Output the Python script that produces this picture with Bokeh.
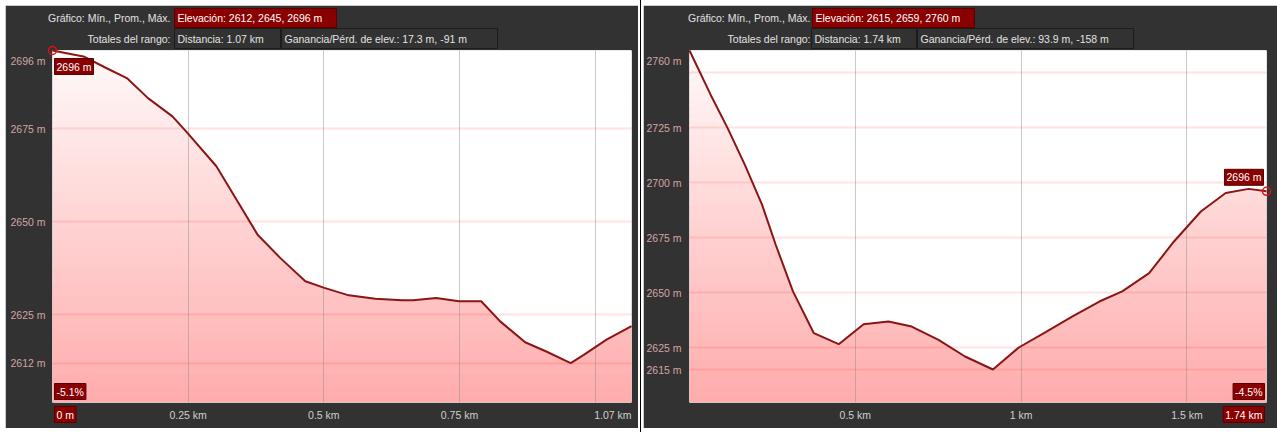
import numpy as np
from bokeh.plotting import figure
from bokeh.models import FixedTicker, PrintfTickFormatter, Div, Range1d
from bokeh.layouts import row
from bokeh.embed import file_html
from bokeh.resources import INLINE
from bokeh.core.properties import value

FONT = "Liberation Sans"
FS = "10.5px"

# ---------------- data ----------------
left_km = [0.000, 0.057, 0.099, 0.137, 0.176, 0.221, 0.249, 0.302, 0.337, 0.378, 0.420, 0.466, 0.501,
           0.546, 0.595, 0.644, 0.665, 0.707, 0.749, 0.790, 0.825, 0.871, 0.910, 0.955, 0.979, 1.021, 1.067]
left_elev = [2696.0, 2694.4, 2691.3, 2688.6, 2683.2, 2678.3, 2673.8, 2664.9, 2656.4, 2646.5, 2640.2, 2634.0,
             2632.2, 2630.2, 2629.3, 2628.9, 2628.9, 2629.5, 2628.6, 2628.6, 2623.2, 2617.6, 2615.1, 2612.0,
             2614.2, 2618.3, 2621.9]

right_km = [0.000, 0.064, 0.115, 0.167, 0.219, 0.260, 0.312, 0.375, 0.450, 0.525, 0.600, 0.670, 0.751,
            0.831, 0.915, 0.993, 1.074, 1.155, 1.236, 1.305, 1.386, 1.461, 1.542, 1.617, 1.686, 1.740]
right_elev = [2760.0, 2739.8, 2724.7, 2708.0, 2689.8, 2671.7, 2650.5, 2631.5, 2626.5, 2635.6, 2636.8, 2634.5,
              2628.5, 2620.9, 2615.0, 2625.0, 2632.0, 2639.1, 2645.9, 2650.5, 2658.8, 2673.2, 2686.8, 2695.2,
              2697.1, 2696.0]

left_yticks = [2612, 2625, 2650, 2675]
left_ytop = "2696 m"
left_ygrid = [2612, 2625, 2650, 2675]
left_xticks = [0.25, 0.5, 0.75]
left_xlabels = ["0.25 km", "0.5 km", "0.75 km"]
left_xgrid = [0.25, 0.5, 0.75, 1.0]
left_header = ["Gráfico: Mín., Prom., Máx.", "Elevación: 2612, 2645, 2696 m", "Totales del rango:",
               "Distancia: 1.07 km", "Ganancia/Pérd. de elev.: 17.3 m, -91 m"]
left_marker = ["2696 m", "-5.1%", "0 m"]
left_end_label = "1.07 km"

right_yticks = [2615, 2625, 2650, 2675, 2700, 2725]
right_ytop = "2760 m"
right_ygrid = [2615, 2625, 2650, 2675, 2700, 2725, 2750]
right_xticks = [0.5, 1.0, 1.5]
right_xlabels = ["0.5 km", "1 km", "1.5 km"]
right_xgrid = [0.5, 1.0, 1.5]
right_header = ["Gráfico: Mín., Prom., Máx.", "Elevación: 2615, 2659, 2760 m", "Totales del rango:",
                "Distancia: 1.74 km", "Ganancia/Pérd. de elev.: 93.9 m, -158 m"]
right_marker = ["2696 m", "-4.5%", "1.74 km"]

# ---------------- style ----------------
BG = "#323232"
RED = "#8a0000"
H = 352


class Panel:
    def __init__(self, km, elev, y_lo, y_hi, fw, bl, br, margin, yticks, ytop, ygrid, xticks, xlabels,
                 xgrid, header, hdr, ystand):
        self.fw = fw
        self.x_end = km[-1]
        self.y_lo, self.y_hi = y_lo, y_hi
        p = figure(frame_width=fw, frame_height=H, min_border_left=bl, min_border_right=br,
                   min_border_top=45, min_border_bottom=26,
                   x_range=Range1d(0, self.x_end), y_range=Range1d(y_lo, y_hi),
                   output_backend="svg", toolbar_location=None, margin=margin)
        self.p = p
        p.background_fill_color = "white"
        p.border_fill_color = BG
        p.outline_line_color = None

        # vertical gradient fill under the profile
        n = 50
        edges = np.linspace(y_lo, y_hi, n + 1)
        step = edges[1] - edges[0]
        mids = (edges[:-1] + edges[1:]) / 2
        t = (mids - y_lo) / (y_hi - y_lo)
        g = 172 + (250 - 172) * t
        cols = ["#ff%02x%02x" % (int(v), int(v)) for v in g]
        p.quad(left=0, right=self.x_end, bottom=edges[:-1], top=edges[1:] + step * 0.4,
               fill_color=cols, line_color=None)
        p.varea(x=km, y1=elev, y2=[y_hi] * len(km), fill_color="white")
        p.line(km, elev, line_color="#8b1515", line_width=2, level="annotation")

        # grids
        p.xgrid.ticker = FixedTicker(ticks=xgrid)
        p.xgrid.grid_line_color = "#8a8a8a"
        p.xgrid.grid_line_alpha = 0.45
        p.xgrid.level = "guide"
        p.ygrid.ticker = FixedTicker(ticks=ygrid)
        p.ygrid.grid_line_color = "#ff2020"
        p.ygrid.grid_line_alpha = 0.13
        p.ygrid.grid_line_width = 2
        p.ygrid.level = "guide"

        # axes
        p.yaxis.ticker = FixedTicker(ticks=yticks)
        p.yaxis.formatter = PrintfTickFormatter(format="%d m")
        p.yaxis.major_label_text_color = "#d2a4a4"
        p.yaxis.major_label_standoff = ystand
        p.xaxis.ticker = FixedTicker(ticks=xticks)
        p.xaxis.major_label_overrides = dict(zip(xticks, xlabels))
        p.xaxis.major_label_text_color = "#cfcfcf"
        p.xaxis.major_label_standoff = 6
        for ax in (p.xaxis[0], p.yaxis[0]):
            ax.axis_line_color = None
            ax.major_tick_line_color = None
            ax.minor_tick_line_color = None
            ax.major_tick_out = 0
            ax.major_tick_in = 0
            ax.minor_tick_out = 0
            ax.minor_tick_in = 0
            ax.major_label_text_font = FONT
            ax.major_label_text_font_size = FS
        self.text(ytop, -ystand, 342, align="right", color="#d2a4a4")

        # header
        (lbl_x, red_l, red_r, b1_l, b1_r, b2_l, b2_r) = hdr
        self.box(red_l, red_r, 375, 394, RED, "#5a0000")
        self.box(b1_l, b1_r, 354, 374, BG, "#1c1c1c")
        self.box(b2_l, b2_r, 354, 374, BG, "#1c1c1c")
        self.text(header[0], lbl_x, 385, align="right")
        self.text(header[1], red_l + 3, 385, color="white")
        self.text(header[2], lbl_x, 364, align="right")
        self.text(header[3], b1_l + 3, 364)
        self.text(header[4], b2_l + 3, 364)

    # screen position (frame-relative, y up) -> data position, for decorations outside the frame
    def fx(self, px):
        return px / self.fw * self.x_end

    def fy(self, py):
        return self.y_lo + py / H * (self.y_hi - self.y_lo)

    def box(self, l, r, b, t, fill, line):
        self.p.quad(left=[self.fx(l)], right=[self.fx(r)], bottom=[self.fy(b)], top=[self.fy(t)],
                    fill_color=fill, line_color=line, level="overlay")

    def text(self, s, px, py, align="left", color="#e2e2e2", bg=None, data=None, xo=0, yo=0):
        if data is None:
            x, y = self.fx(px), self.fy(py)
        else:
            x, y = data
        kw = {}
        if bg is not None:
            kw.update(background_fill_color=bg, border_line_color="#5a0000", padding=2)
        self.p.text(x=[x], y=[y], text=[s], text_align=align, text_baseline="middle",
                    text_font=value(FONT), text_font_size=value(FS), text_color=color,
                    x_offset=xo, y_offset=yo, level="overlay", **kw)


L = Panel(left_km, left_elev, 2601.4, 2696.0, 579, 47, 7, (5, 0, 0, 5),
          left_yticks, left_ytop, left_ygrid, left_xticks, left_xlabels, left_xgrid, left_header,
          (118, 122, 284, 122, 228, 229, 445), 7)
R = Panel(right_km, right_elev, 2600.0, 2760.0, 577, 43, 12, (5, 0, 0, 0),
          right_yticks, right_ytop, right_ygrid, right_xticks, right_xlabels, right_xgrid, right_header,
          (121, 123, 285, 122, 227, 228, 444), 8)

# markers: left at start of range, right at end of range
L.p.scatter([left_km[0]], [left_elev[0]], marker="circle", size=8, fill_color=None,
            line_color="#e01010", line_width=1.5, level="overlay")
L.text(left_marker[0], 0, 0, color="white", bg=RED, data=(left_km[0], left_elev[0]), xo=2, yo=16)
L.text(left_marker[1], 2, 11, color="white", bg=RED)
L.text(left_marker[2], 2, -12, color="white", bg=RED)
L.text(left_end_label, 579, -12, align="right", color="#cfcfcf")

R.p.scatter([right_km[-1]], [right_elev[-1]], marker="circle", size=8, fill_color=None,
            line_color="#e01010", line_width=1.5, level="overlay")
R.text(right_marker[0], 0, 0, align="right", color="white", bg=RED,
       data=(right_km[-1], right_elev[-1]), xo=-3, yo=-14)
R.text(right_marker[1], 575, 11, align="right", color="white", bg=RED)
R.text(right_marker[2], 575, -12, align="right", color="white", bg=RED)

sep = Div(text='<div style="width:1px;height:432px;background:#000;margin-left:2px"></div>',
          width=5, height=432, margin=0)

layout = row(L.p, sep, R.p)
open("out.html", "w").write(file_html(layout, INLINE))
